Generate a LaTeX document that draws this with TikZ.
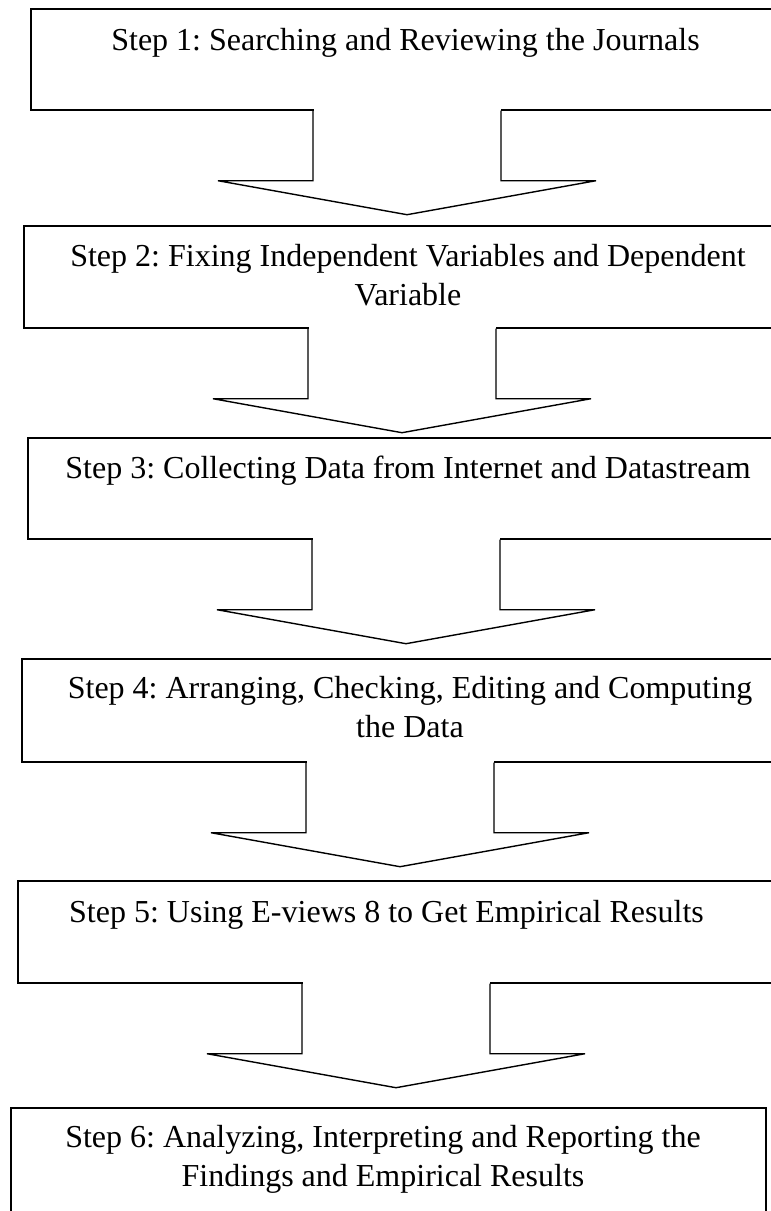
\documentclass[tikz,border=0pt]{standalone}
\usepackage{fontspec}
\setmainfont{Liberation Serif}
\frenchspacing
\usetikzlibrary{fit}
\tikzset{
    stepbox/.style={draw=black, line width=0.7pt, inner sep=0pt},
    steptext/.style={anchor=base, inner sep=0pt, align=center, font=\fontsize{16pt}{19.25pt}\selectfont}
}
\newcommand{\drawStepArrow}[1]{\fill [white] (#1.south) +(-93.5,-3) rectangle +(93.5,3);
    \draw [black, line width=0.7pt, line join=miter] (#1.south) +(-94,0) -- +(-94,70) -- +(-189,70) -- +(0,104) -- +(189,70) -- +(94,70) -- +(94,0)}

\begin{document}
\begin{tikzpicture}[x=0.5pt, y=-0.5pt]
    \useasboundingbox (0,0) rectangle (771,1211);
    \clip (0,0) rectangle (771,1211);

    %step 1
    \node [stepbox, fit={(31,9) (783,110)}] (s1) {};
    \node [steptext] (t1) at (405.5,50.5) {Step 1: Searching and Reviewing the Journals};
    \drawStepArrow{s1};

    %step 2 (base is the last line)
    \node [stepbox, fit={(24,226) (780,328)}] (s2) {};
    \node [steptext] (t2) at (408,305) {Step 2: Fixing Independent Variables and Dependent\\Variable};
    \drawStepArrow{s2};

    %step 3
    \node [stepbox, fit={(28,438) (784,539)}] (s3) {};
    \node [steptext] (t3) at (408,478) {Step 3: Collecting Data from Internet and Datastream};
    \drawStepArrow{s3};

    %step 4
    \node [stepbox, fit={(22,659) (778,762)}] (s4) {};
    \node [steptext] (t4) at (410,737) {Step 4: Arranging, Checking, Editing and Computing\\the Data};
    \drawStepArrow{s4};

    %step 5
    \node [stepbox, fit={(18,881) (774,983)}] (s5) {};
    \node [steptext] (t5) at (386.5,922.5) {Step 5: Using E-views 8 to Get Empirical Results};
    \drawStepArrow{s5};

    %step 6
    \node [stepbox, fit={(11,1108) (766,1240)}] (s6) {};
    \node [steptext] (t6) at (383,1186) {Step 6: Analyzing, Interpreting and Reporting the\\Findings and Empirical Results};

\end{tikzpicture}
\end{document}
